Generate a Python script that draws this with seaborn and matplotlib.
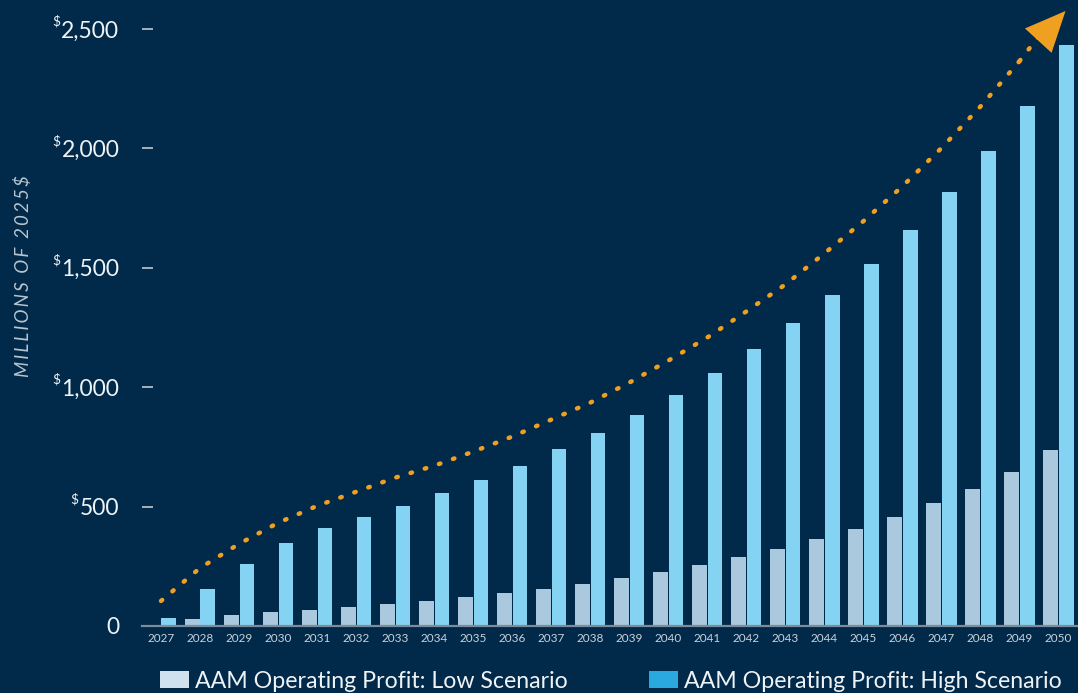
import numpy as np
import pandas as pd
import matplotlib
matplotlib.use("Agg")
import matplotlib.pyplot as plt
import seaborn as sns
from matplotlib.patches import Patch

# ---------------- data ----------------
years = [str(y) for y in range(2027, 2051)]
low_scenario = [5, 29, 46, 59, 67, 80, 92, 105, 122, 138, 155, 176, 201, 226,
                256, 289, 323, 365, 407, 457, 516, 575, 646, 738]
high_scenario = [34, 155, 260, 348, 411, 457, 503, 558, 612, 671, 739, 810, 885,
                 969, 1061, 1158, 1267, 1384, 1514, 1657, 1816, 1988, 2177, 2433]
trend = [105, 243, 344, 432, 503, 562, 621, 671, 730, 793, 864, 935, 1019,
         1111, 1208, 1317, 1430, 1560, 1695, 1841, 2001, 2175, 2365, 2575]
yticks = [0, 500, 1000, 1500, 2000, 2500]
series_names = ["AAM Operating Profit: Low Scenario", "AAM Operating Profit: High Scenario"]
y_label = "MILLIONS OF 2025$"

# ---------------- style ----------------
BG = "#01294a"
LOW = "#aac8de"
HIGH = "#84d3f2"
ORANGE = "#f0a020"
TXT = "#eef3f6"

sns.set_theme(style="dark")
plt.rcParams["font.family"] = ["Lato", "DejaVu Sans"]

W, H = 1078, 693
fig = plt.figure(figsize=(W / 100, H / 100), dpi=100, facecolor=BG)
ax = fig.add_axes([141.5 / W, (H - 626) / H, (W - 141.5) / W, 626 / H])
ax.set_facecolor(BG)

df = pd.DataFrame({
    "year": years * 2,
    "value": low_scenario + high_scenario,
    "scenario": [series_names[0]] * len(years) + [series_names[1]] * len(years),
})
sns.barplot(data=df, x="year", y="value", hue="scenario",
            hue_order=series_names, palette={series_names[0]: LOW, series_names[1]: HIGH},
            width=0.8, gap=0.06, saturation=1, legend=False, ax=ax, linewidth=0)

# trend dotted line with arrow head
xs = np.arange(len(years))
ax.plot(xs[:-1], trend[:-1], color=ORANGE, lw=3.2, linestyle=(0, (0.35, 3.0)),
        dash_capstyle="round", zorder=5)
ax.plot([xs[-2], xs[-2] + 0.5], [trend[-2], (trend[-2] + trend[-1]) / 2], color=ORANGE,
        lw=3.2, linestyle=(0, (0.35, 3.0)), dash_capstyle="round", zorder=5)
ax.annotate("", xy=(xs[-1] + 0.18, trend[-1]), xytext=(xs[-2], trend[-2]),
            arrowprops=dict(arrowstyle="-|>,head_length=1.45,head_width=0.65",
                            color=ORANGE, lw=0, mutation_scale=20, shrinkA=0, shrinkB=0),
            zorder=6)

ax.set_xlim(-0.5, 23.5)
ax.set_ylim(0, 2621)
ax.set_yticks(yticks)
ax.set_yticklabels([f"{v:,}" for v in yticks])
ax.set_xlabel("")
ax.set_ylabel("")
ax.grid(False)
for s in ["top", "right", "left"]:
    ax.spines[s].set_visible(False)
ax.spines["bottom"].set_color("#7d8c99")
ax.spines["bottom"].set_linewidth(1.6)

ax.tick_params(axis="y", direction="in", length=8, width=1.1, color="#d0d6dc",
               pad=16, labelsize=16.5, labelcolor=TXT, left=True)
ax.tick_params(axis="x", length=0, pad=5, labelsize=8.5, labelcolor="#c9d3da")

# y axis title with letter spacing
spaced = "\u2009".join(list(y_label))
fig.text(23 / W, 1 - 276 / H, spaced, rotation=90, ha="center", va="center",
         fontsize=13.5, style="italic", fontweight="normal", color="#b9c5ce",
         family=["Lato", "DejaVu Sans"])

# legend
handles = [Patch(facecolor="#cfe0ee", edgecolor="none"),
           Patch(facecolor="#2aa8e0", edgecolor="none")]
fig.legend(handles, series_names, loc="center left",
           bbox_to_anchor=(160 / W, 1 - 681 / H), ncol=2, frameon=False,
           fontsize=16.7, handlelength=1.25, handleheight=0.8, handletextpad=0.25,
           columnspacing=3.5, borderpad=0, borderaxespad=0, labelcolor=TXT)

# superscript dollar signs on y tick labels
fig.canvas.draw()
r = fig.canvas.get_renderer()
for v, lab in zip(yticks, ax.get_yticklabels()):
    if v == 0:
        continue
    bb = lab.get_window_extent(r)
    fig.text((bb.x0 - 1) / W, (bb.y1 - 1) / H, "$", ha="right", va="center",
             fontsize=10, color=TXT)

fig.savefig("out.png", dpi=100, facecolor=BG)
